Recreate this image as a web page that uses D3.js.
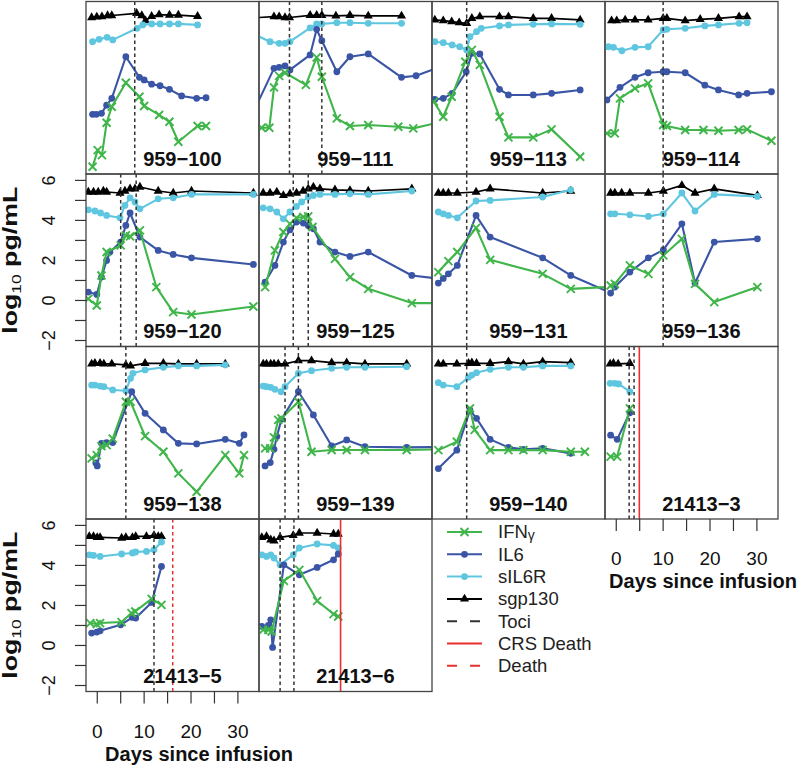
<!DOCTYPE html>
<html><head><meta charset="utf-8">
<script src="https://cdn.jsdelivr.net/npm/d3@7"></script>
<style>
body{margin:0;background:#fff}
svg{display:block}
text{font-family:"Liberation Sans",Arial,Helvetica,sans-serif}
</style>
</head><body>
<svg id="chart" width="800" height="765"></svg>
<script>
// ---------------- DATA ----------------
const panelNames = ["959\u2212100","959\u2212111","959\u2212113","959\u2212114",
  "959\u2212120","959\u2212125","959\u2212131","959\u2212136",
  "959\u2212138","959\u2212139","959\u2212140","21413\u22123",
  "21413\u22125","21413\u22126"];

const tociDays = [[8],[4.1,11],[5],[10],[5,8.3],[4.9,8.1],[5],[10],[6.1],[3.15,6],[5],[2.75,3.8],[12.1],[2.1,5.05]];
const crsDeathDays = [null,null,null,null,null,null,null,null,null,null,null,4.92,null,15];
const deathDays    = [null,null,null,null,null,null,null,null,null,null,null,null,16.1,null];

const ifngX = [
 [-1,0.1,1,2,3.1,6.1,9,10,13.2,15.4,17.3,21.4,23.2],
 [-1.85,-0.2,0.8,1.9,3.15,7.6,9.9,11,14.2,17,20.9,27.3,30.5,38],
 [-2,0,1.8,4.7,6.1,7.8,12,13.9,19.2,23.1,29.2],
 [-2,-0.3,0.8,4,6.8,10,10.8,14.7,18.6,21.8,26.1,27.9,33.1],
 [-1.9,-0.1,0.9,2,5,6.1,7,9.1,12.6,16.2,20.1,33.3],
 [-1.1,1,2.8,4.2,5.6,7.05,8.1,9,13.8,17,20.9,30.2,40],
 [-1.05,1.1,3,7,10,21.2,27.2,38],
 [-1.2,-0.3,2.9,6.85,10.05,14,16.8,20.9,30.1],
 [-1.2,-0.1,0.9,2,3.3,6.1,7.1,10.2,14.1,17.3,21.2,27.3,30.3,31.3],
 [-1.1,0,0.8,1.7,2.4,6,8.8,13.1,16.3,20.2,29.1,40],
 [-1.05,2.9,5.7,6.7,10,13.9,17.1,21.2,27.2,30.2],
 [-1.2,0.2,2.9],
 [-1.5,-0.1,0.6,5.2,7.3,8.1,11.6,13.7],
 [-1.5,-0.4,0.3,2.9,6.2,10,13.5,14.5]
];
const ifngY = [
 [-1.94,-1.11,-1.36,0.26,1.06,2.26,1.56,1.10,0.65,0.31,-0.69,0.10,0.10],
 [0.01,0.01,2.03,2.6,2.76,2.15,3.53,2.56,0.48,0.10,0.15,0.06,-0.02,0.39],
 [1.31,0.56,1.56,3.31,3.90,3.15,0.56,-0.47,-0.47,-0.07,-1.44],
 [-0.27,-0.27,1.48,1.98,2.23,0.15,0.10,-0.10,-0.10,-0.14,-0.10,-0.07,-0.64],
 [0.08,-0.25,1.25,2.42,2.75,3.25,3.20,3.50,0.67,-0.58,-0.70,-0.30],
 [0.67,2.50,3.42,3.83,4.13,4.17,4.20,3.67,2.08,1.17,0.58,-0.13,-0.13],
 [1.42,1.97,2.42,3.63,2.03,1.33,0.58,0.71],
 [0.75,0.83,1.75,1.33,2.25,3.08,0.83,-0.08,0.67],
 [0.73,0.89,1.34,1.39,1.72,3.56,3.56,1.84,1.06,-0.02,-0.94,0.89,-0.02,0.89],
 [1.23,1.23,1.78,2.65,2.73,3.56,1.06,1.15,1.15,1.15,1.15,1.2],
 [1.14,1.56,3.23,2.15,1.14,1.14,1.14,1.14,1.06,1.06],
 [0.82,0.82,3.23],
 [1.12,1.07,1.12,1.17,1.62,1.70,2.33,2.03],
 [0.78,0.78,0.70,3.23,3.78,2.23,1.57,1.45]
];

const il6X = [
 [-1,-0.2,0.9,2,3.1,6.1,9,10,11.6,13.4,15.4,18,21.2,23.2],
 [-4,0.8,1.9,3.15,4.2,8.5,9.9,11,14.2,17,20.9,28,31.1,38],
 [-1.8,0,1.9,4.9,6.1,7.8,12,13.9,19.2,23.1,29.2],
 [-2,0.8,4,6.8,10,10.8,14.7,18.9,21.8,26.1,27.9,33.1],
 [-1.9,-0.1,0.9,2,2.7,5,6.1,7,9.1,13,16.2,20.1,33.3],
 [-1.1,1,2.8,4.2,5.6,7.05,8.1,9.2,10.6,13.8,17,20.9,30.2,40],
 [-1.05,0,1.1,3,7,10,21.2,27.2,38],
 [-1.2,-0.3,2.9,6.85,10.05,14,16.8,20.9,30.1],
 [-0.3,0,0.9,2,3.3,7.35,10.2,14.1,17.3,21.2,27.3,30.3,31.3],
 [-1.1,0,0.8,1.4,2.4,6,9.2,13.1,16.3,20.2,29.1,40],
 [-1.05,2.9,5.7,7.1,10,13.9,17.1,21.2,27.2],
 [-1.2,0.2,2.9],
 [-1.2,-0.1,0.6,5,7.5,8.2,11.6,13.7],
 [-1.8,-0.4,0.1,0.5,2.9,6.2,10,13.5,14.5]
];
const il6Y = [
 [0.68,0.68,0.73,1.14,1.48,3.56,2.53,2.40,2.19,2.11,1.93,1.60,1.48,1.51],
 [0.6,2.98,3.03,3.10,2.90,3.65,4.93,4.36,2.81,3.56,3.70,2.53,2.61,3.2],
 [1.43,1.48,1.73,2.81,3.73,3.70,1.93,1.65,1.65,1.73,1.90],
 [1.4,2.03,2.53,2.76,2.81,2.81,2.76,2.14,1.90,1.65,1.73,1.81],
 [0.42,0.30,1.17,2.00,2.42,2.92,3.75,4.37,3.17,2.50,2.30,2.13,1.80],
 [0.92,1.75,2.92,3.53,3.92,3.87,3.75,3.58,2.92,2.42,2.20,2.42,1.25,0.98],
 [0.87,1.1,1.33,1.75,4.25,3.17,2.13,1.25,0.14],
 [0.37,0.67,1.42,2.13,2.53,3.83,0.87,2.92,3.08],
 [0.5,0.35,1.48,1.52,1.52,4.06,2.98,2.15,1.48,1.45,1.68,1.48,1.90],
 [0.35,0.52,1.18,1.82,2.68,4.06,2.90,1.35,1.65,1.31,1.28,1.3],
 [0.22,1.14,3.14,2.73,1.68,1.28,1.18,1.23,0.98],
 [1.89,1.68,3.01],
 [0.62,0.67,0.73,1.03,1.40,1.37,2.15,3.95],
 [0.95,1.0,1.28,-0.10,4.03,3.53,3.90,4.28,4.57]
];

const sil6rX = [
 [-1,0.4,2.1,3.3,8.5,9.7,11.6,13.4,15.4,17.3,21.4],
 [-4,-0.05,1.9,3.15,4.2,8.5,9.9,11,14.2,17,20.9,28],
 [-1.8,0,1.9,3.5,5,5.7,7.1,8.1,12,13.9,19.2,23.1,29.2],
 [-1.7,-0.6,1.2,4,6.8,10,10.8,14.7,18.9,21.8,26.2,27.9],
 [-1.9,-0.5,0.7,2,4.85,5.9,7,8.05,9.1,13,16.2,20.1,33.3],
 [-1.5,-0.05,1.4,2.8,4.2,5.6,6.7,8.1,9.2,10.6,13.8,17,20.9,30.2],
 [-1.05,0,1.1,3,7,10,21.2,27.2],
 [-1.2,-0.3,2.9,6.85,10.05,14,16.8,20.9,30.1],
 [-1.2,-0.5,0.6,1.4,3.3,6.1,7.1,7.6,10.2,14.1,17.3,21.2,27.3],
 [-1.5,-0.8,0.1,1,2.3,3.15,6,8.8,13.1,16.3,20.2,29.1],
 [-1.05,0,2.9,5.4,6.1,7.1,10,13.9,17.1,21.2,27.2],
 [-1.3,-0.3,0.5,2.9],
 [-1.7,-0.8,0.6,5.2,7.5,8.2,10.5,12.1,13.7],
 [-1.8,-0.8,0.1,0.8,2.1,4.9,6.2,10,13.5,14.5]
];
const sil6rY = [
 [4.31,4.43,4.53,4.40,4.98,5.15,5.20,5.20,5.20,5.20,5.15],
 [4.75,4.31,4.23,4.23,4.31,5.00,5.20,5.20,5.26,5.26,5.23,5.23],
 [4.31,4.26,4.15,4.06,3.90,4.56,4.81,4.98,5.10,5.15,5.18,5.20,5.18],
 [4.06,4.03,3.86,4.03,4.06,4.90,4.93,4.98,5.10,5.15,5.23,5.26],
 [4.53,4.47,4.37,4.25,4.13,4.75,5.13,4.92,4.58,5.08,5.13,5.30,5.30],
 [4.63,4.58,4.42,4.08,4.42,4.70,4.92,5.17,5.25,5.30,5.30,5.33,5.30,5.47],
 [4.42,4.33,4.25,4.13,4.97,5.00,5.17,5.53],
 [4.33,4.33,4.28,4.20,4.33,5.37,4.47,5.30,5.20],
 [4.39,4.39,4.34,4.31,4.15,4.11,4.73,4.98,5.15,5.28,5.35,5.35,5.40],
 [4.34,4.31,4.28,4.18,4.06,4.31,4.98,5.11,5.23,5.28,5.28,5.31],
 [4.51,4.39,4.31,4.78,4.89,5.01,5.18,5.28,5.28,5.35,5.35],
 [4.48,4.48,4.45,4.06],
 [4.53,4.50,4.45,4.57,4.62,4.67,4.70,4.78,5.17],
 [4.53,4.45,4.53,4.37,4.03,4.53,4.87,5.07,5.00,4.87]
];

const sgpX = [
 [-1.2,-0.1,1,2.2,3.1,8.4,9.5,10.3,11.6,13.2,15.4,17.3,21.4],
 [-4,0.8,1.9,3.15,4.1,8.5,9.9,11,14,17,20.9,28],
 [-1.8,0,1.8,3.4,5,6.1,7.8,12,13.9,19.2,23.1,29.2],
 [-1,0.1,1.9,4,6.8,10,10.8,14.7,17.9,21.8,26.2,27.9],
 [-1.9,-0.8,0.2,1.3,2,4.85,5.9,7,8.05,9.1,13,16.2,20.1,33.3],
 [-1.5,-0.05,1.4,2.8,4.2,5.6,7,8.1,9.2,10.6,13.8,17,20.9,30.2],
 [-1.05,0,1.1,3,7,10,21.2,27.2],
 [-1.2,-0.3,1.15,2.9,6.85,10.05,14,16.8,20.9,30.1],
 [-1.2,-0.5,0.6,1.4,3.1,6.1,7.1,10.2,14.1,17.3,21.2,27.3],
 [-1.5,-0.8,0.1,0.8,1.7,3.15,6,8.8,13.1,16.3,20.2,29.1],
 [-1.05,0,2.9,5.4,6.1,7.1,10,13.9,17.1,21.2,27.2],
 [-1.3,-0.6,0.4,2.9],
 [-1.7,-0.8,0,0.6,5.2,6.1,7.5,8.2,10.5,12.1,13,13.7],
 [-1.8,-0.8,0.1,0.8,2.1,4.9,6.2,10,13.5,14.5]
];
const sgpY = [
 [5.52,5.55,5.56,5.62,5.62,5.73,5.62,5.36,5.58,5.66,5.64,5.64,5.58],
 [5.5,5.56,5.56,5.52,5.52,5.63,5.63,5.63,5.6,5.63,5.6,5.6],
 [5.40,5.36,5.31,5.26,5.23,5.48,5.56,5.56,5.56,5.48,5.48,5.40],
 [5.36,5.36,5.40,5.40,5.40,5.48,5.48,5.36,5.43,5.48,5.56,5.56],
 [5.42,5.42,5.42,5.47,5.42,5.37,5.47,5.58,5.58,5.67,5.47,5.37,5.47,5.37],
 [5.37,5.37,5.42,5.25,5.33,5.37,5.47,5.58,5.67,5.58,5.53,5.50,5.47,5.58],
 [5.37,5.37,5.37,5.37,5.42,5.58,5.37,5.47],
 [5.37,5.37,5.37,5.37,5.37,5.47,5.75,5.37,5.58,5.25],
 [5.45,5.48,5.48,5.45,5.45,5.40,5.35,5.48,5.48,5.45,5.45,5.45],
 [5.45,5.45,5.45,5.45,5.45,5.45,5.61,5.61,5.51,5.51,5.45,5.45],
 [5.45,5.45,5.45,5.48,5.51,5.48,5.48,5.56,5.45,5.56,5.51],
 [5.45,5.48,5.45,5.48],
 [5.45,5.45,5.40,5.40,5.37,5.40,5.40,5.45,5.45,5.50,5.45,5.45],
 [5.40,5.45,5.28,5.23,5.40,5.50,5.62,5.62,5.57,5.57]
];

const seriesNames = ["IFN\u03b3","IL6","sIL6R","sgp130"];
const legendLabels = ["IFN\u03b3","IL6","sIL6R","sgp130","Toci","CRS Death","Death"];
const xTicks = [0,5,10,15,20,25,30];
const xTickLabels = [0,10,20,30];
const yTicks = [-2,-1,0,1,2,3,4,5,6];
const yTickLabels = [-2,0,2,4,6];
const xAxisTitle = "Days since infusion";

// ---------------- LAYOUT ----------------
const colors = {ifng:"#3fb54a", il6:"#3a55a6", sil6r:"#5fc6e0", sgp:"#000000", toci:"#333333", red:"#e8312f"};
const W = 173, H = 172.5;
const colLeft = [86,259,432,605];
const top0 = 1.5;
const x = d3.scaleLinear().domain([-2.4,34.5]).range([0,W]);
const y = d3.scaleLinear().domain([-2.3,6.32]).range([H,0]);

const svg = d3.select("#chart");
const defs = svg.append("defs");
defs.append("clipPath").attr("id","pclip").append("rect")
  .attr("x",0).attr("y",0).attr("width",W).attr("height",H);

const series = [
  {key:"sgp",   X:sgpX,   Y:sgpY,   color:colors.sgp,   lw:1.7, marker:"tri"},
  {key:"sil6r", X:sil6rX, Y:sil6rY, color:colors.sil6r, lw:2.1, marker:"dot"},
  {key:"il6",   X:il6X,   Y:il6Y,   color:colors.il6,   lw:2.1, marker:"dot"},
  {key:"ifng",  X:ifngX,  Y:ifngY,  color:colors.ifng,  lw:2.1, marker:"x"}
];

function drawMarker(sel, type, color){
  if(type==="dot"){
    sel.append("circle").attr("r",3.4).attr("fill",color);
  } else if(type==="tri"){
    sel.append("path").attr("d",d3.symbol(d3.symbolTriangle).size(36)()).attr("fill",color);
  } else {
    sel.append("path").attr("d","M-4,-4L4,4M-4,4L4,-4")
      .attr("stroke",color).attr("stroke-width",1.9).attr("fill","none");
  }
}

const line = d3.line().x(d=>x(d[0])).y(d=>y(d[1]));

panelNames.forEach((name,i)=>{
  const col = i%4, row = Math.floor(i/4);
  const g = svg.append("g").attr("transform",`translate(${colLeft[col]},${top0+row*H})`);
  const inner = g.append("g").attr("clip-path","url(#pclip)");

  series.forEach(s=>{
    const pts = s.X[i].map((d,k)=>[d,s.Y[i][k]]);
    inner.append("path").attr("d",line(pts)).attr("fill","none")
      .attr("stroke",s.color).attr("stroke-width",s.lw).attr("stroke-linejoin","round");
    pts.forEach(p=>{
      const m = inner.append("g").attr("transform",`translate(${x(p[0])},${y(p[1])})`);
      drawMarker(m, s.marker, s.color);
    });
  });

  // panel label
  g.append("text").attr("x",x(18.15)).attr("y",y(-1.88))
    .attr("text-anchor","middle").attr("font-size",20).attr("font-weight","bold")
    .attr("fill","#111").text(name);

  // vertical event lines
  tociDays[i].forEach(d=>{
    inner.append("line").attr("x1",x(d)).attr("x2",x(d)).attr("y1",0).attr("y2",H)
      .attr("stroke",colors.toci).attr("stroke-width",1.5).attr("stroke-dasharray","3.5,3");
  });
  if(crsDeathDays[i]!==null){
    inner.append("line").attr("x1",x(crsDeathDays[i])).attr("x2",x(crsDeathDays[i])).attr("y1",0).attr("y2",H)
      .attr("stroke",colors.red).attr("stroke-width",1.6);
  }
  if(deathDays[i]!==null){
    inner.append("line").attr("x1",x(deathDays[i])).attr("x2",x(deathDays[i])).attr("y1",0).attr("y2",H)
      .attr("stroke",colors.red).attr("stroke-width",1.5).attr("stroke-dasharray","3.5,3");
  }

  // box
  g.append("rect").attr("x",0).attr("y",0).attr("width",W).attr("height",H)
    .attr("fill","none").attr("stroke","#444").attr("stroke-width",1.3);

  // y axis for rows 2 and 4, column 1
  if(col===0 && (row===1 || row===3)){
    yTicks.forEach(t=>{
      g.append("line").attr("x1",-11).attr("x2",0).attr("y1",y(t)).attr("y2",y(t))
        .attr("stroke","#333").attr("stroke-width",1.2);
    });
    yTickLabels.forEach(t=>{
      g.append("text").attr("transform",`translate(-31,${y(t)}) rotate(-90)`)
        .attr("text-anchor","middle").attr("font-size",18).attr("fill","#111")
        .text(d3.format("d")(t));
    });
    const lab = g.append("text").attr("transform",`translate(-69.5,${H/2}) rotate(-90)`)
      .attr("text-anchor","middle").attr("font-size",20).attr("font-weight","bold").attr("fill","#111")
      .attr("textLength",147).attr("lengthAdjust","spacingAndGlyphs");
    lab.append("tspan").text("log");
    lab.append("tspan").attr("font-size",13).attr("font-weight","normal").attr("dy",4).text("10");
    lab.append("tspan").attr("dy",-4).text(" pg/mL");
  }

  // x axis for 21413-3 and 21413-5
  if(i===11 || i===12){
    xTicks.forEach(t=>{
      g.append("line").attr("x1",x(t)).attr("x2",x(t)).attr("y1",H).attr("y2",H+12)
        .attr("stroke","#333").attr("stroke-width",1.2);
    });
    xTickLabels.forEach(t=>{
      g.append("text").attr("x",x(t)).attr("y",H+46).attr("text-anchor","middle")
        .attr("font-size",19).attr("fill","#111").text(t);
    });
    g.append("text").attr("x", i===12 ? 113 : 98).attr("y",H+69).attr("text-anchor","middle")
      .attr("font-size",20).attr("font-weight","bold").attr("fill","#111").text(xAxisTitle);
  }
});

// ---------------- LEGEND ----------------
const leg = svg.append("g").attr("transform","translate(447,532)");
const legStyle = [
  {color:colors.ifng, dash:null, marker:"x", lw:2},
  {color:colors.il6, dash:null, marker:"dot", lw:2},
  {color:colors.sil6r, dash:null, marker:"dot", lw:2},
  {color:colors.sgp, dash:null, marker:"tri", lw:2},
  {color:colors.toci, dash:"10,13", marker:null, lw:2},
  {color:colors.red, dash:null, marker:null, lw:2},
  {color:colors.red, dash:"10,13", marker:null, lw:2}
];
legendLabels.forEach((lab,k)=>{
  const gy = k*22.3;
  const st = legStyle[k];
  const row = leg.append("g").attr("transform",`translate(0,${gy})`);
  row.append("line").attr("x1",0).attr("x2",35).attr("y1",0).attr("y2",0)
    .attr("stroke",st.color).attr("stroke-width",st.lw)
    .attr("stroke-dasharray",st.dash);
  if(st.marker){
    const m = row.append("g").attr("transform","translate(17.5,0)");
    drawMarker(m, st.marker, st.color);
  }
  const t = row.append("text").attr("x",51).attr("y",0).attr("dy","0.35em")
    .attr("font-size",18.5).attr("fill","#222");
  if(k===0){
    t.append("tspan").text("IFN");
    t.append("tspan").attr("font-size",14).attr("dy",2).text("\u03b3");
  } else {
    t.text(lab);
  }
});
</script>
</body></html>
